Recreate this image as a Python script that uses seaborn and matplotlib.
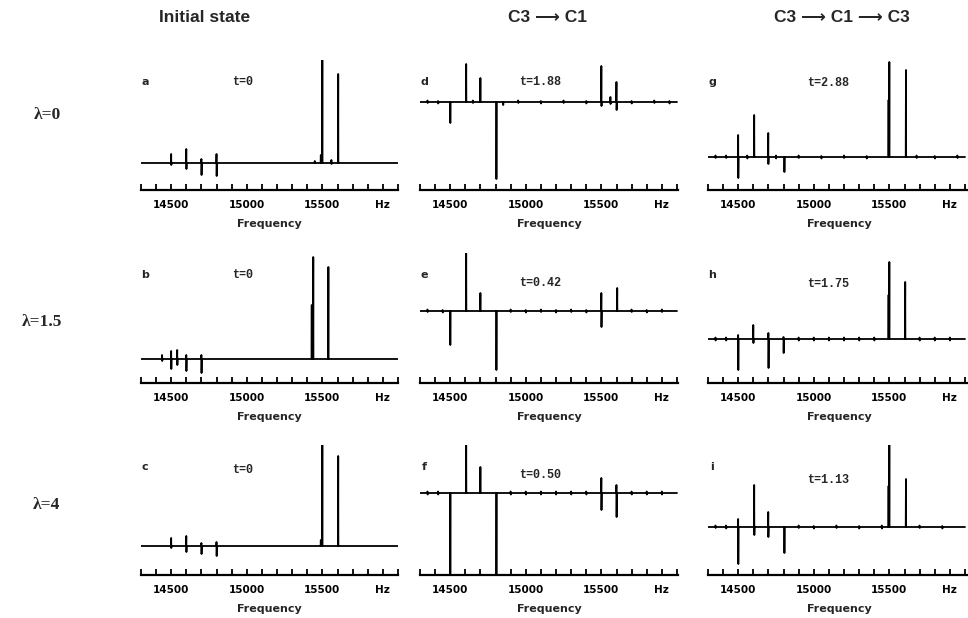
import matplotlib
matplotlib.use("Agg")
import matplotlib.pyplot as plt
import pandas as pd
import seaborn as sns

# column titles / row labels / panel annotations
col_titles = ["Initial state", "C3 \u27f6 C1", "C3 \u27f6 C1 \u27f6 C3"]
row_labels = ["\u03bb=0", "\u03bb=1.5", "\u03bb=4"]
panel_letters = [["a", "d", "g"], ["b", "e", "h"], ["c", "f", "i"]]
panel_times = [["t=0", "t=1.88", "t=2.88"],
               ["t=0", "t=0.42", "t=1.75"],
               ["t=0", "t=0.50", "t=1.13"]]

tick_values = [14500, 15000, 15500, 15900]
tick_labels = ["14500", "15000", "15500", "Hz"]

# peaks: (frequency Hz, height up, depth down), arbitrary units
peaks_a = [(14500, 9, 2), (14600, 14, 6), (14700, 4, 12), (14800, 9, 13),
           (15450, 2, 0), (15490, 8, 0), (15500, 103, 0), (15560, 3, 1), (15605, 89, 0)]
peaks_b = [(14440, 4, 2), (14500, 8, 10), (14540, 9, 6), (14600, 4, 12), (14700, 4, 14),
           (15430, 54, 0), (15440, 102, 0), (15540, 92, 0)]
peaks_c = [(14500, 8, 2), (14600, 10, 6), (14700, 3, 8), (14800, 4, 10),
           (15490, 6, 0), (15500, 103, 0), (15605, 90, 0)]
peaks_d = [(14350, 1.5, 1), (14420, 1, 1.5), (14500, 0, 21), (14606, 38, 0), (14650, 1.5, 1),
           (14700, 24, 0), (14805, 0, 77), (14850, 0, 3), (14950, 1.5, 1), (15100, 1, 1.5),
           (15250, 1.5, 1), (15400, 1, 1.5), (15500, 36, 4), (15560, 5, 2), (15600, 20, 8),
           (15700, 1, 1.5), (15850, 1.5, 1), (15950, 1, 1.5)]
peaks_e = [(14350, 1.5, 1), (14450, 1, 1.5), (14500, 0, 34), (14606, 58, 0), (14700, 18, 0),
           (14805, 0, 59), (14900, 1.5, 1), (15000, 1, 1.5), (15100, 1.5, 1), (15200, 1, 1.5),
           (15300, 1.5, 1), (15400, 1, 1.5), (15500, 18, 16), (15605, 23, 0), (15700, 1.5, 1),
           (15800, 1, 1.5), (15900, 1.5, 1)]
peaks_f = [(14350, 1.5, 1.5), (14420, 1.5, 1.5), (14500, 0, 85), (14606, 48, 0), (14700, 26, 0),
           (14805, 0, 85), (14900, 1.5, 1.5), (15000, 1.5, 1.5), (15100, 1.5, 1.5),
           (15200, 1.5, 1.5), (15300, 1.5, 1.5), (15400, 1.5, 1.5), (15500, 15, 17),
           (15600, 8, 24), (15700, 1.5, 1.5), (15800, 1.5, 1.5), (15900, 1.5, 1.5)]
peaks_g = [(14350, 1.5, 1), (14420, 1.5, 1), (14500, 22, 21), (14560, 1.5, 1.5), (14606, 42, 0),
           (14699, 24, 7), (14750, 1.5, 1.5), (14805, 0, 15), (14900, 1.5, 1), (15050, 1, 1.5),
           (15200, 1.5, 1), (15350, 1, 1.5), (15495, 57, 0), (15500, 95, 0), (15610, 87, 0),
           (15680, 1.5, 1), (15800, 1, 1.5), (15950, 1.5, 1)]
peaks_h = [(14350, 1.5, 1.5), (14420, 1.5, 1.5), (14500, 4, 31), (14600, 14, 4), (14700, 6, 29),
           (14800, 2, 14), (14900, 1.5, 1.5), (15000, 1.5, 1.5), (15100, 1.5, 1.5),
           (15200, 1.5, 1.5), (15300, 1.5, 1.5), (15400, 1.5, 1.5), (15495, 44, 0),
           (15500, 77, 0), (15605, 57, 0), (15700, 1.5, 1.5), (15800, 1.5, 1.5), (15900, 1.5, 1.5)]
peaks_i = [(14350, 1.5, 1), (14420, 1.5, 1.5), (14500, 8, 37), (14606, 42, 8), (14699, 15, 10),
           (14805, 0, 26), (14900, 1.5, 1), (15000, 1, 1.5), (15150, 1.5, 1), (15300, 1, 1.5),
           (15450, 1.5, 1.5), (15495, 41, 0), (15500, 82, 0), (15610, 48, 0), (15700, 1.5, 1),
           (15850, 1, 1.5)]

panel_peaks = [[peaks_a, peaks_d, peaks_g],
               [peaks_b, peaks_e, peaks_h],
               [peaks_c, peaks_f, peaks_i]]

# layout (pixels of the 968x618 canvas)
W, H = 968, 618
col_left = [141, 420, 708]
col_width = [257, 258, 262]
row_axis = [190, 383, 575]
ax_height = 130
baseline_px = [[27, 88, 33],
               [24, 72, 44],
               [29, 82, 48]]


def spectrum_frame(peaks):
    xs, ys = [14300], [0]
    for f, up, down in sorted(peaks):
        xs += [f - 2, f - 0.5, f + 0.5, f + 2]
        ys += [0, up, -down, 0]
    xs.append(16000)
    ys.append(0)
    return pd.DataFrame({"freq": xs, "intensity": ys})


sns.set_style("white")
plt.rcParams["font.family"] = ["DejaVu Sans"]

fig = plt.figure(figsize=(W / 100, H / 100), dpi=100)

for r in range(3):
    for c in range(3):
        left = col_left[c] / W
        bottom = 1 - row_axis[r] / H
        ax = fig.add_axes([left, bottom, col_width[c] / W, ax_height / H])
        df = spectrum_frame(panel_peaks[r][c])
        sns.lineplot(data=df, x="freq", y="intensity", ax=ax, color="black",
                     linewidth=1.3, sort=False, estimator=None)
        base = baseline_px[r][c]
        ax.set_ylim(-base, ax_height - base)
        ax.set_xlim(14300, 14300 + 1700 * col_width[c] / 257)
        for s in ["top", "right", "left"]:
            ax.spines[s].set_visible(False)
        ax.spines["bottom"].set_linewidth(1.6)
        ax.spines["bottom"].set_color("black")
        ax.set_yticks([])
        ax.set_xticks(range(14300, 16001, 100), minor=True)
        ax.set_xticks(tick_values)
        ax.set_xticklabels(tick_labels, fontsize=7.5, fontweight="bold")
        ax.tick_params(axis="x", which="both", direction="in", length=4, width=1.3,
                       bottom=True, pad=7, colors="black")
        ax.set_xlabel("Frequency", fontsize=8, fontweight="bold", labelpad=7)
        ax.set_ylabel("")
        ax.patch.set_alpha(0)

        top_px = row_axis[r] - ax_height
        fig.text((col_left[c] + 4) / W, 1 - (top_px + 22) / H, panel_letters[r][c],
                 fontsize=8, fontweight="bold", ha="center", va="center")
        tx = [243, 540, 828][c]
        ty_off = [[22, 22, 23], [22, 30, 31], [25, 30, 35]][r][c]
        fig.text(tx / W, 1 - (top_px + ty_off) / H, panel_times[r][c],
                 fontsize=8.5, fontweight="bold", family="Liberation Mono",
                 ha="center", va="center")

for c, title in enumerate(col_titles):
    fig.text([205, 548, 842][c] / W, 1 - 18 / H, title, fontsize=12.5, fontweight="bold",
             family=["Liberation Sans", "DejaVu Sans"], ha="center", va="center")

for r, lab in enumerate(row_labels):
    fig.text([47, 42, 46][r] / W, 1 - [115, 322, 505][r] / H, lab, fontsize=12.5,
             fontweight="bold", family=["Liberation Serif", "DejaVu Serif"],
             ha="center", va="center")

fig.savefig("out.png", dpi=100)
